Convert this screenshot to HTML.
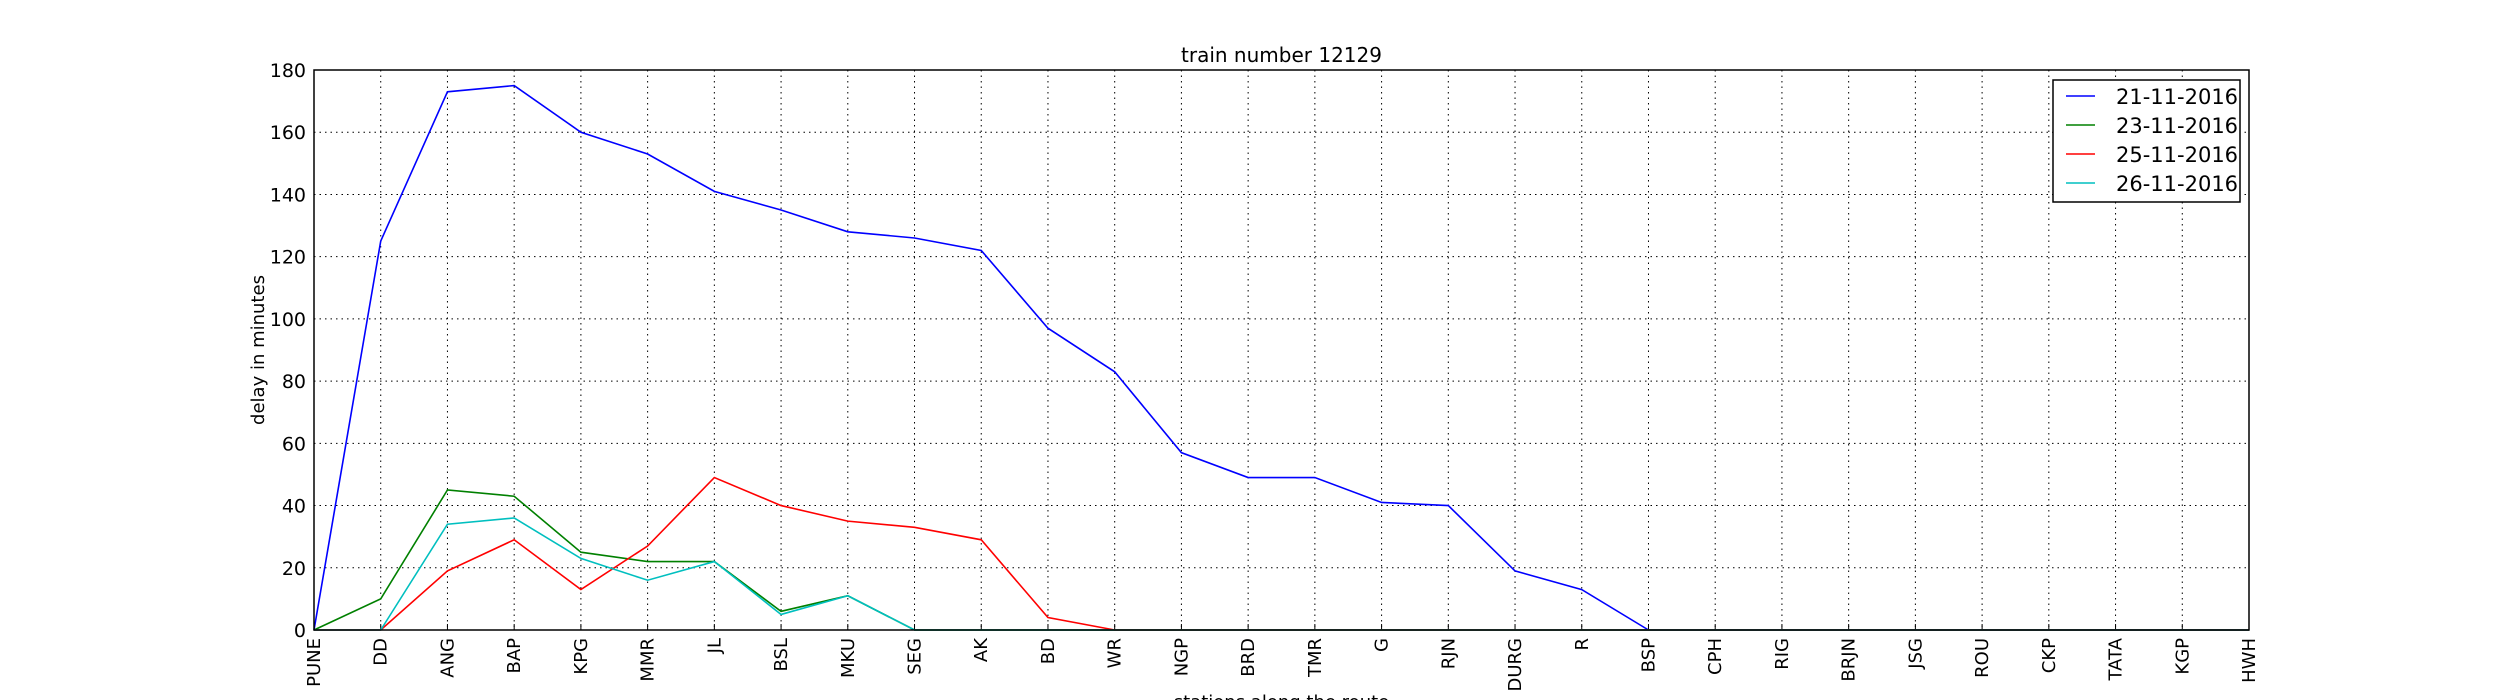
<!DOCTYPE html>
<html><head><meta charset="utf-8"><style>
html,body{margin:0;padding:0;background:#fff;}
svg{display:block;font-family:"DejaVu Sans","Liberation Sans",sans-serif;}
</style></head><body>
<svg id="chart" width="2500" height="700" viewBox="0 0 2500 700"></svg>
<script>
const stations = ["PUNE","DD","ANG","BAP","KPG","MMR","JL","BSL","MKU","SEG","AK","BD","WR","NGP","BRD","TMR","G","RJN","DURG","R","BSP","CPH","RIG","BRJN","JSG","ROU","CKP","TATA","KGP","HWH"];
const seriesNames = ["21-11-2016","23-11-2016","25-11-2016","26-11-2016"];
const s21 = [0,125,173,175,160,153,141,135,128,126,122,97,83,57,49,49,41,40,19,13,0,0,0,0,0,0,0,0,0,0];
const s23 = [0,10,45,43,25,22,22,6,11,0,0,0,0,0,0,0,0,0,0,0,0,0,0,0,0,0,0,0,0,0];
const s25 = [0,0,19,29,13,27,49,40,35,33,29,4,0,0,0,0,0,0,0,0,0,0,0,0,0,0,0,0,0,0];
const s26 = [0,0,34,36,23,16,22,5,11,0,0,0,0,0,0,0,0,0,0,0,0,0,0,0,0,0,0,0,0,0];
const yTicks = [0,20,40,60,80,100,120,140,160,180];

const NS="http://www.w3.org/2000/svg";
const svg=document.getElementById('chart');
const L=314,R=2249,T=70,B=630,YMAX=180;
const n=stations.length-1;
function xs(i){return L+(R-L)*i/ (stations.length-1);}
function ys(v){return B-(B-T)*v/YMAX;}
function mk(tag,attrs){const e=document.createElementNS(NS,tag);for(const k in attrs)e.setAttribute(k,attrs[k]);svg.appendChild(e);return e;}

// grid
stations.forEach((s,i)=>{
  const g=mk('line',{x1:xs(i),x2:xs(i),y1:T,y2:B,stroke:'#000','stroke-width':1,'stroke-dasharray':'1.5,4'});
  
  
  const t=mk('line',{x1:xs(i),x2:xs(i),y1:B,y2:B-6,stroke:'#000','stroke-width':1});
  
  
  const lb=mk('text',{x:0,y:0,'font-size':18,'text-anchor':'end',transform:`translate(${xs(i)+6},${B+8}) rotate(-90)`});
  lb.textContent=s;
  
  
});
yTicks.forEach(v=>{
  const g=mk('line',{x1:L,x2:R,y1:ys(v),y2:ys(v),stroke:'#000','stroke-width':1,'stroke-dasharray':'1.5,4'});
  
  
  const lb=mk('text',{x:L-8,y:ys(v)+7,'font-size':19,'text-anchor':'end'});
  lb.textContent=v;
  
  
});
const colors=['#0000ff','#008000','#ff0000','#00bfbf'];
const all=[s21,s23,s25,s26];
all.forEach((arr,k)=>{
  const p=mk('polyline',{points:arr.map((v,i)=>xs(i)+','+ys(v)).join(' '),fill:'none',stroke:colors[k],'stroke-width':1.6});
  
  
});
const fr=mk('rect',{x:L,y:T,width:R-L,height:B-T,fill:'none',stroke:'#000','stroke-width':1.5});


const title=mk('text',{x:(L+R)/2,y:62,'font-size':20,'text-anchor':'middle'});
title.textContent='train number 12129';


const yl=mk('text',{x:0,y:0,'font-size':18,'text-anchor':'middle',transform:`translate(264,${(T+B)/2}) rotate(-90)`});
yl.textContent='delay in minutes';


const xl=mk('text',{x:(L+R)/2,y:708,'font-size':18,'text-anchor':'middle'});
xl.textContent='stations along the route';


// legend
const lg=mk('rect',{x:2053,y:80,width:187,height:122,fill:'#fff',stroke:'#000','stroke-width':1.5});


seriesNames.forEach((nm,k)=>{
  const y=96+k*29;
  const ln=mk('line',{x1:2066,x2:2095,y1:y,y2:y,stroke:colors[k],'stroke-width':1.6});
  
  
  const t=mk('text',{x:2116,y:y+8,'font-size':21});
  t.textContent=nm;
  
  
});
</script>
</body></html>
